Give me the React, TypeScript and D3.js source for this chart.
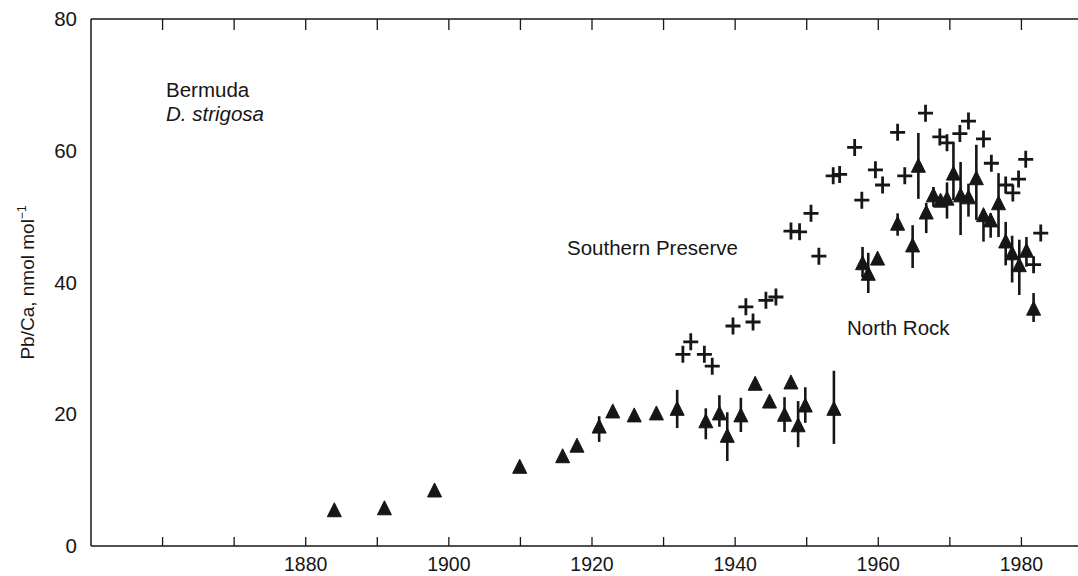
import React from 'react'
import * as d3 from 'd3'

// North Rock (triangles): year, Pb/Ca, error bar low / high (null = no bar)
const nrYears = [1884, 1891, 1898, 1909.9, 1915.9, 1917.9, 1921, 1922.9, 1925.9, 1929, 1931.9, 1935.9, 1937.8, 1938.9, 1940.8, 1942.8, 1944.8, 1946.9, 1947.8, 1948.8, 1949.8, 1953.8,
  1957.8, 1958.6, 1959.9, 1962.7, 1964.8, 1965.6, 1966.7, 1967.7, 1968.7, 1969.6, 1970.5, 1971.5, 1972.6, 1973.7, 1974.7, 1975.7, 1976.8, 1977.8, 1978.7, 1979.7, 1980.7, 1981.7]
const nrValues = [5.2, 5.5, 8.2, 11.8, 13.4, 15.0, 17.9, 20.2, 19.6, 19.9, 20.6, 18.7, 19.9, 16.5, 19.6, 24.4, 21.7, 19.7, 24.6, 18.1, 21.1, 20.6,
  42.7, 41.1, 43.4, 48.7, 45.4, 57.5, 50.4, 53.0, 52.2, 52.5, 56.3, 53.0, 52.7, 55.6, 50.0, 49.2, 51.8, 46.0, 44.2, 42.4, 44.6, 35.8]
const nrLow = [null, null, null, null, null, null, 15.8, null, null, null, 17.9, 16.2, 18.1, 12.9, 17.3, null, null, 17.3, null, 15.0, 18.7, 15.5,
  40.8, 38.4, null, 47.1, 42.2, 52.7, 47.5, 51.5, null, 49.7, 52.5, 47.2, 50.0, 49.5, 46.2, 46.8, 46.9, 42.6, 40.0, 38.1, 42.4, 34.0]
const nrHigh = [null, null, null, null, null, null, 19.7, null, null, null, 23.7, 20.9, 22.9, 20.3, 22.5, null, null, 22.6, null, 22.0, 24.1, 26.6,
  45.4, 44.5, null, 50.5, 48.7, 62.7, 52.1, 54.5, null, 55.2, 61.2, 58.3, 55.0, 60.9, 51.0, 50.5, 56.6, 49.2, 47.1, 46.5, 46.9, 38.4]

// Southern Preserve (crosses)
const spYears = [1932.7, 1933.8, 1935.7, 1936.8, 1939.7, 1941.5, 1942.5, 1944.3, 1945.7, 1947.8, 1949.0, 1950.6, 1951.7, 1953.7, 1954.6, 1956.7, 1957.7,
  1959.6, 1960.6, 1962.7, 1963.7, 1966.6, 1968.6, 1969.6, 1971.4, 1972.6, 1974.7, 1975.8, 1977.8, 1978.8, 1979.6, 1980.6, 1981.7, 1982.7]
const spValues = [29.1, 31.0, 29.1, 27.3, 33.4, 36.3, 34.0, 37.3, 37.8, 47.8, 47.7, 50.5, 44.0, 56.2, 56.4, 60.5, 52.5,
  57.1, 54.8, 62.8, 56.2, 65.7, 62.1, 61.2, 62.6, 64.5, 61.8, 58.1, 54.8, 53.6, 55.7, 58.7, 42.7, 47.5]

const xTicks = [1860, 1870, 1880, 1890, 1900, 1910, 1920, 1930, 1940, 1950, 1960, 1970, 1980]
const xLabels = [1880, 1900, 1920, 1940, 1960, 1980]
const yLabels = [0, 20, 40, 60, 80]

const W = 1078
const H = 576
const ink = '#161616'
const font = 'Liberation Sans, Arial, sans-serif'
const fs = 20.5

const App = () => {
  const x = d3.scaleLinear().domain([1850, 1990]).range([91, 1093])
  const y = d3.scaleLinear().domain([0, 80]).range([546, 19])
  const left = x(1850)
  const top = y(80)
  const bottom = y(0)

  const tri = 'M0,-9L7,5L-7,5Z'
  const plus = 'M-7.5,0H7.5M0,-8.5V8.5'

  return (
    <svg width={W} height={H} style={{ position: 'absolute', left: 0, top: 0, background: '#fff' }}>
      {/* frame */}
      <line x1={left} x2={W} y1={top} y2={top} stroke={ink} strokeWidth={1.5} />
      <line x1={left} x2={W} y1={bottom} y2={bottom} stroke={ink} strokeWidth={1.5} />
      <line x1={left} x2={left} y1={top} y2={bottom} stroke={ink} strokeWidth={1.5} />
      {xTicks.map(t => (
        <g key={t}>
          <line x1={x(t)} x2={x(t)} y1={bottom} y2={bottom - 9} stroke={ink} strokeWidth={1.3} />
          <line x1={x(t)} x2={x(t)} y1={top} y2={top + 11} stroke={ink} strokeWidth={1.3} />
        </g>
      ))}
      {xLabels.map(t => (
        <text key={t} x={x(t)} y={bottom + 25} textAnchor="middle" fontFamily={font} fontSize={19.5} fill={ink}>{t}</text>
      ))}
      {yLabels.map(t => (
        <text key={t} x={left - 14} y={y(t) + 7} textAnchor="end" fontFamily={font} fontSize={fs} fill={ink}>{t}</text>
      ))}
      <text transform={`translate(34,${(top + bottom) / 2}) rotate(-90)`} textAnchor="middle" fontFamily={font} fontSize={19} fill={ink}>
        Pb/Ca, nmol mol<tspan dy={-8} fontSize={12}>−1</tspan>
      </text>

      {/* annotations */}
      <text x={166} y={97} fontFamily={font} fontSize={fs} fill={ink}>Bermuda</text>
      <text x={166} y={121} fontFamily={font} fontSize={fs} fontStyle="italic" fill={ink}>D. strigosa</text>
      <text x={567} y={255} fontFamily={font} fontSize={fs} fill={ink}>Southern Preserve</text>
      <text x={847} y={335} fontFamily={font} fontSize={fs} fill={ink}>North Rock</text>

      {/* North Rock error bars and triangles */}
      {nrYears.map((yr, i) => (nrLow[i] !== null && nrHigh[i] !== null ? (
        <line key={'e' + i} x1={x(yr)} x2={x(yr)} y1={y(nrLow[i] as number)} y2={y(nrHigh[i] as number)} stroke={ink} strokeWidth={2.6} />
      ) : null))}
      {nrYears.map((yr, i) => (
        <path key={'t' + i} d={tri} transform={`translate(${x(yr)},${y(nrValues[i])})`} fill={ink} stroke={ink} strokeWidth={1} strokeLinejoin="round" />
      ))}

      {/* Southern Preserve crosses */}
      {spYears.map((yr, i) => (
        <path key={'p' + i} d={plus} transform={`translate(${x(yr)},${y(spValues[i])})`} fill="none" stroke={ink} strokeWidth={2.8} />
      ))}
    </svg>
  )
}

export default App
